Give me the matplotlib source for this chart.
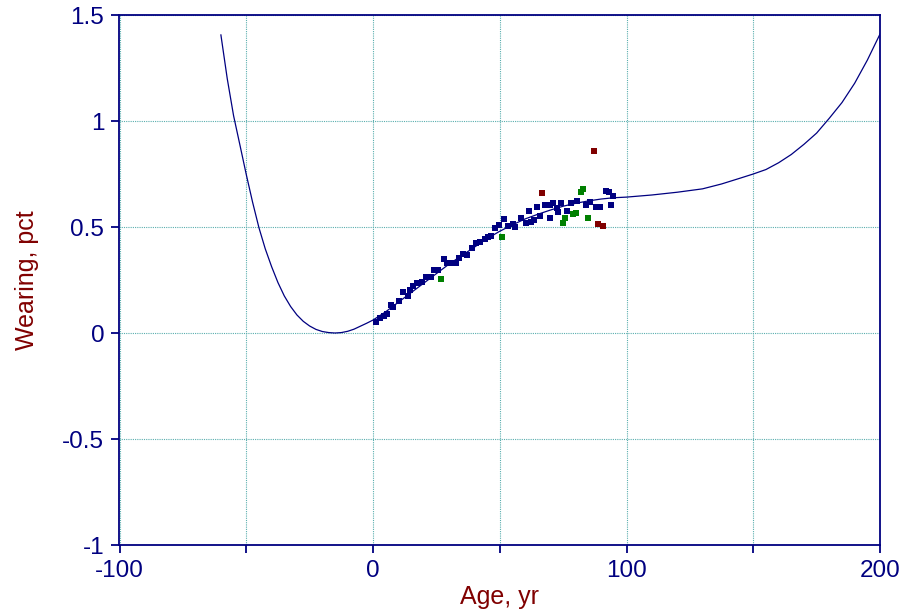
import matplotlib
matplotlib.use("Agg")
import matplotlib.pyplot as plt
from matplotlib.ticker import MultipleLocator, FuncFormatter

# Fitted curve
curve_x = [-60, -57.5, -55, -52.5, -50, -47.5, -45, -42.5, -40, -37.5, -35, -32.5, -30, -27.5, -25, -22.5, -20,
           -17.5, -15, -12.5, -10, -7.5, -5, -2.5, 0, 5, 10, 15, 20, 25, 30, 35, 40, 45, 50, 55, 60, 65,
           70, 75, 80, 85, 90, 95, 100, 110, 120, 130, 137.5, 145, 150, 155, 160, 165, 170, 175, 180, 185,
           190, 195, 200]
curve_y = [1.406, 1.200, 1.025, 0.887, 0.748, 0.617, 0.497, 0.397, 0.313, 0.238, 0.175, 0.125, 0.085, 0.055, 0.033,
           0.017, 0.007, 0.002, 0.000, 0.002, 0.008, 0.018, 0.032, 0.046, 0.061, 0.100, 0.145, 0.190, 0.235,
           0.280, 0.325, 0.365, 0.405, 0.445, 0.480, 0.510, 0.538, 0.560, 0.580, 0.598, 0.612, 0.623,
           0.632, 0.638, 0.641, 0.651, 0.664, 0.680, 0.703, 0.731, 0.750, 0.771, 0.803, 0.842, 0.890, 0.943,
           1.013, 1.087, 1.178, 1.287, 1.410]

# Main observations (navy)
main_x = [1.2, 2.8, 4.3, 5.4, 7.0, 8.0, 10.4, 11.7, 13.9, 14.6, 15.9, 17.5, 19.2, 20.9, 22.8, 24.1,
          25.8, 28.0, 29.3, 31.0, 32.7, 34.0, 35.6, 36.9, 38.9, 40.6, 42.2, 44.2, 45.5, 46.5, 48.1,
          49.8, 51.7, 53.4, 55.1, 56.0, 58.3, 60.4, 62.2, 63.5, 65.9, 61.7, 64.8, 67.9, 69.8, 70.9,
          69.8, 72.5, 74.0, 73.1, 76.6, 78.0, 80.6, 84.0, 85.6, 88.0, 89.6, 91.9, 93.2, 94.8, 93.8]
main_y = [0.053, 0.069, 0.080, 0.090, 0.132, 0.124, 0.152, 0.195, 0.175, 0.203, 0.222, 0.234, 0.242,
          0.266, 0.266, 0.297, 0.297, 0.348, 0.332, 0.329, 0.332, 0.355, 0.373, 0.368, 0.400, 0.426,
          0.431, 0.442, 0.454, 0.458, 0.494, 0.509, 0.536, 0.505, 0.514, 0.501, 0.541, 0.517, 0.524,
          0.533, 0.552, 0.575, 0.593, 0.604, 0.604, 0.615, 0.544, 0.588, 0.615, 0.572, 0.577, 0.615,
          0.624, 0.604, 0.619, 0.593, 0.593, 0.671, 0.665, 0.646, 0.604]

# Second group (green)
green_x = [26.7, 50.8, 75.1, 75.7, 79.0, 80.1, 82.1, 83.0, 85.0]
green_y = [0.256, 0.451, 0.517, 0.544, 0.561, 0.568, 0.664, 0.679, 0.544]

# Third group (dark red)
red_x = [66.7, 87.2, 88.9, 90.6]
red_y = [0.659, 0.860, 0.513, 0.505]

NAVY = "#000080"
DARKRED = "#800000"
GRID = "#5aaeae"

plt.rcParams['font.family'] = ['Liberation Sans', 'DejaVu Sans']

fig = plt.figure(figsize=(9.07, 6.15), dpi=100)
ax = fig.add_axes([119.5 / 907, 1 - 545 / 615, (880 - 119.5) / 907, (545 - 15) / 615])

ax.plot(curve_x, curve_y, color=NAVY, lw=0.9, zorder=3)
ax.scatter(main_x, main_y, marker='s', s=20, color=NAVY, linewidths=0, zorder=4)
ax.scatter(green_x, green_y, marker='s', s=20, color="#008000", linewidths=0, zorder=4)
ax.scatter(red_x, red_y, marker='s', s=20, color=DARKRED, linewidths=0, zorder=4)

ax.set_xlim(-100, 200)
ax.set_ylim(-1, 1.5)
ax.xaxis.set_major_locator(MultipleLocator(50))
ax.yaxis.set_major_locator(MultipleLocator(0.5))
ax.xaxis.set_major_formatter(FuncFormatter(lambda v, p: f"{int(round(v))}" if round(v) % 100 == 0 else ""))
ax.yaxis.set_major_formatter(FuncFormatter(lambda v, p: f"{v:g}"))

ax.grid(True, color=GRID, linestyle=(0, (1, 1)), linewidth=0.8, zorder=0)
for s in ax.spines.values():
    s.set_color(NAVY)
    s.set_linewidth(1.3)
ax.tick_params(direction='out', length=6, width=1.3, color=NAVY, labelcolor=NAVY, labelsize=17.5, pad=5)
ax.tick_params(axis='x', pad=5)

ax.set_xlabel("Age, yr", color=DARKRED, fontsize=18, labelpad=2)
ax.set_ylabel("Wearing, pct", color=DARKRED, fontsize=18, labelpad=17)

fig.savefig("out.png", dpi=100)
